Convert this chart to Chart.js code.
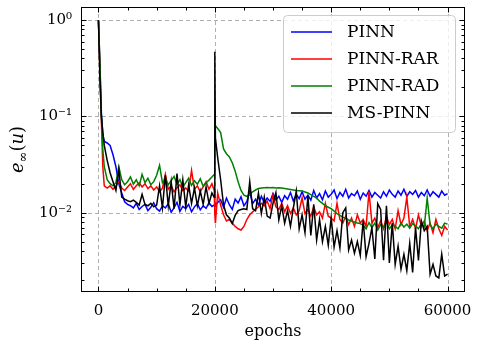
<!DOCTYPE html>
<html>
<head>
<meta charset="utf-8">
<script src="https://cdn.jsdelivr.net/npm/chart.js@4.4.0/dist/chart.umd.min.js"></script>
<style>
html, body { margin: 0; padding: 0; background: #fff; }
</style>
</head>
<body>
<canvas id="chart" width="479" height="349"></canvas>
<script>
// epochs (denser near the start and around the 20000 restart)
const epochs = [
    0, 250, 500, 750, 1000,
    1500, 2000, 2500, 3000, 3500, 4000, 4500, 5000,
    5500, 6000, 6500, 7000, 7500, 8000, 8500, 9000, 9500, 10000,
    10500, 11000, 11500, 12000, 12500, 13000, 13500, 14000, 14500, 15000,
    15500, 16000, 16500, 17000, 17500, 18000, 18500, 19000, 19500,
    19900, 20000, 20100,
    20500, 21000, 21500, 22000, 22500, 23000, 23500, 24000, 24500, 25000,
    25500, 26000, 26500, 27000, 27500, 28000, 28500, 29000, 29500, 30000,
    30500, 31000, 31500, 32000, 32500, 33000, 33500, 34000, 34500, 35000,
    35500, 36000, 36500, 37000, 37500, 38000, 38500, 39000, 39500, 40000,
    40500, 41000, 41500, 42000, 42500, 43000, 43500, 44000, 44500, 45000,
    45500, 46000, 46500, 47000, 47500, 48000, 48500, 49000, 49500, 50000,
    50500, 51000, 51500, 52000, 52500, 53000, 53500, 54000, 54500, 55000,
    55500, 56000, 56500, 57000, 57500, 58000, 58500, 59000, 59500, 60000
]

const pinn = [
    1.0, 0.35, 0.11, 0.065, 0.055,
    0.053, 0.05, 0.04, 0.03, 0.02, 0.016, 0.013, 0.0122,
    0.0118, 0.0112, 0.0125, 0.0108, 0.0116, 0.0122, 0.0105, 0.0114, 0.0127, 0.011,
    0.0104, 0.0118, 0.0112, 0.0124, 0.0101, 0.0113, 0.0128, 0.0103, 0.0116, 0.011,
    0.0122, 0.0102, 0.0115, 0.0124, 0.0107, 0.0118, 0.0111, 0.0127, 0.0116,
    0.012, 0.013, 0.0118,
    0.0128, 0.0136, 0.0114, 0.0142, 0.0121, 0.0108, 0.0138, 0.0126, 0.0146, 0.0118,
    0.013, 0.0165, 0.0124, 0.0138, 0.012, 0.0148, 0.0127, 0.0142, 0.0131, 0.0158,
    0.0135, 0.0148, 0.0128, 0.015, 0.0138, 0.0162, 0.0132, 0.0155, 0.014, 0.0165,
    0.0138, 0.0152, 0.0135, 0.017, 0.0142, 0.0158, 0.0136, 0.0168, 0.0145, 0.0155,
    0.0172, 0.014, 0.0162, 0.0148, 0.0175, 0.0142, 0.0158, 0.015, 0.0168, 0.0138,
    0.016, 0.0148, 0.017, 0.0145, 0.0162, 0.0152, 0.0142, 0.0165, 0.0148, 0.0172,
    0.0155, 0.0145, 0.0168, 0.0152, 0.0175, 0.0148, 0.0165, 0.0155, 0.017, 0.0145,
    0.0162, 0.015, 0.0172, 0.0148, 0.0165, 0.0155, 0.0145, 0.0168, 0.0152, 0.0158
]

const pinnRar = [
    1.0, 0.3, 0.09, 0.03, 0.019,
    0.018, 0.019, 0.0175, 0.019, 0.021, 0.018, 0.017, 0.0185,
    0.02, 0.0175, 0.019, 0.0205, 0.0185, 0.02, 0.0178, 0.019, 0.0172, 0.0185,
    0.0165, 0.018, 0.025, 0.0175, 0.019, 0.0165, 0.0182, 0.0195, 0.017, 0.018,
    0.0168, 0.0275, 0.0175, 0.019, 0.0165, 0.0185, 0.021, 0.0175, 0.02,
    0.017, 0.0095, 0.0078,
    0.016, 0.012, 0.0095, 0.0082, 0.0085, 0.0078, 0.0072, 0.0068, 0.0066, 0.0072,
    0.0085, 0.0095, 0.0102, 0.0108, 0.0115, 0.0125, 0.0118, 0.0132, 0.011, 0.0152,
    0.0115, 0.0108, 0.0125, 0.0102, 0.0118, 0.0098, 0.0112, 0.0095, 0.0105, 0.0142,
    0.0098, 0.0108, 0.0092, 0.0115, 0.0095, 0.0102, 0.0088, 0.0125, 0.0092, 0.0088,
    0.0082, 0.0125, 0.0085, 0.0078, 0.0092, 0.0075, 0.0088, 0.0072, 0.0095, 0.0078,
    0.0085, 0.0072, 0.0165, 0.0078, 0.0088, 0.007, 0.0082, 0.0068, 0.0092, 0.0075,
    0.0085, 0.0068, 0.0105, 0.0075, 0.0088, 0.0145, 0.0072, 0.0085, 0.0068, 0.0095,
    0.0072, 0.0082, 0.0065, 0.0078, 0.0062, 0.0085, 0.0068, 0.0058, 0.0072, 0.0066
]

const pinnRad = [
    1.0, 0.35, 0.1, 0.045, 0.03,
    0.022, 0.02, 0.019, 0.0205, 0.03, 0.022, 0.0195, 0.021,
    0.0235, 0.0198, 0.022, 0.019, 0.025, 0.0205, 0.0228, 0.0195, 0.021, 0.0245,
    0.031, 0.0205, 0.0225, 0.0195, 0.0215, 0.0238, 0.0198, 0.022, 0.0185, 0.0205,
    0.0228, 0.0192, 0.0215, 0.0198, 0.0225, 0.0188, 0.0205, 0.0218, 0.0235,
    0.025, 0.085, 0.08,
    0.075, 0.068, 0.046, 0.041, 0.038, 0.033, 0.027, 0.021, 0.017, 0.0152,
    0.0148, 0.0155, 0.0165, 0.0172, 0.0178, 0.018, 0.0182, 0.0183, 0.0182, 0.0183,
    0.0181, 0.0182, 0.018, 0.0178, 0.0176, 0.0174, 0.0172, 0.017, 0.0169, 0.0168,
    0.0164, 0.016, 0.0154, 0.0148, 0.0142, 0.0132, 0.0125, 0.0118, 0.0114, 0.011,
    0.0104, 0.0098, 0.0094, 0.009, 0.0087, 0.0084, 0.0082, 0.008, 0.0078, 0.0077,
    0.0074, 0.0068, 0.0079, 0.007, 0.0078, 0.0066, 0.0075, 0.0071, 0.008, 0.0068,
    0.0075, 0.0072, 0.0068, 0.0078, 0.0071, 0.0076, 0.0069, 0.0077, 0.0073, 0.0068,
    0.0077, 0.0071, 0.0142, 0.0075, 0.0068, 0.0076, 0.0072, 0.0069, 0.0078, 0.0076
]

const msPinn = [
    1.0, 0.25, 0.1, 0.068, 0.05,
    0.035, 0.026, 0.021, 0.017, 0.028, 0.0145, 0.0138, 0.0133,
    0.013, 0.0135, 0.0128, 0.012, 0.0155, 0.0122, 0.0118, 0.0125, 0.0115, 0.012,
    0.019, 0.0112, 0.0245, 0.0118, 0.021, 0.011, 0.0255, 0.012, 0.022, 0.0115,
    0.0195, 0.0125, 0.018, 0.0118, 0.0168, 0.0122, 0.0185, 0.0125, 0.016,
    0.0145, 0.47, 0.06,
    0.037, 0.022, 0.012, 0.0095, 0.0088, 0.0077, 0.0094, 0.0105, 0.0108, 0.011,
    0.0108, 0.021, 0.011, 0.0105, 0.016, 0.0098, 0.0145, 0.0092, 0.0088, 0.0125,
    0.0162, 0.0084, 0.0118, 0.0078, 0.0105, 0.0072, 0.0112, 0.0168, 0.0068, 0.0095,
    0.0062, 0.015, 0.0058, 0.0122, 0.0052, 0.0085, 0.005, 0.0072, 0.0046, 0.0089,
    0.0044, 0.0065, 0.0043, 0.01, 0.0112, 0.0041, 0.0052, 0.0038, 0.005, 0.0036,
    0.0083, 0.0035, 0.0048, 0.007, 0.0033, 0.0124, 0.0108, 0.0032, 0.0118, 0.003,
    0.0078, 0.0029, 0.0045, 0.0026, 0.0037, 0.0025, 0.0048, 0.0024, 0.007, 0.0032,
    0.0082, 0.0065, 0.0072, 0.0023, 0.0029, 0.0022, 0.0021, 0.0037, 0.0022, 0.0023
]

const seriesNames = ['PINN', 'PINN-RAR', 'PINN-RAD', 'MS-PINN']
const seriesColors = ['#0000ff', '#ff0000', '#008000', '#000000']
const seriesData = [pinn, pinnRar, pinnRad, msPinn]

const xTicks = [0, 5000, 10000, 15000, 20000, 25000, 30000, 35000, 40000, 45000, 50000, 55000, 60000]
const xMajor = [0, 20000, 40000, 60000]
const yTicks = [
    0.002, 0.003, 0.004, 0.005, 0.006, 0.007, 0.008, 0.009,
    0.01, 0.02, 0.03, 0.04, 0.05, 0.06, 0.07, 0.08, 0.09,
    0.1, 0.2, 0.3, 0.4, 0.5, 0.6, 0.7, 0.8, 0.9, 1
]
const yMajor = [0.01, 0.1, 1]
const yMajorLabels = ['10⁻²', '10⁻¹', '10⁰']

const serif = "'DejaVu Serif', 'Liberation Serif', serif"

function isMajorY(v) {
    return yMajor.findIndex(m => Math.abs(v - m) < m * 1e-6)
}

// dashed grid, inward ticks on all sides, framed legend and the y label
const axesDecor = {
    id: 'axesDecor',
    beforeDatasetsDraw(chart) {
        const { ctx, chartArea: a, scales: { x, y } } = chart
        ctx.save()
        ctx.strokeStyle = '#9a9a9a'
        ctx.lineWidth = 0.8
        ctx.setLineDash([4, 3])
        ctx.beginPath()
        xMajor.forEach(v => {
            const px = Math.round(x.getPixelForValue(v)) + 0.5
            ctx.moveTo(px, a.top)
            ctx.lineTo(px, a.bottom)
        })
        yMajor.forEach(v => {
            const py = Math.round(y.getPixelForValue(v)) + 0.5
            ctx.moveTo(a.left, py)
            ctx.lineTo(a.right, py)
        })
        ctx.stroke()
        ctx.restore()
    },
    afterDatasetsDraw(chart) {
        const { ctx, chartArea: a, scales: { x, y } } = chart
        const L = Math.round(a.left) + 0.5, R = Math.round(a.right) - 0.5
        const T = Math.round(a.top) + 0.5, B = Math.round(a.bottom) - 0.5
        ctx.save()
        ctx.strokeStyle = '#000'
        ctx.lineWidth = 1
        ctx.strokeRect(L, T, R - L, B - T)

        ctx.beginPath()
        xTicks.forEach(v => {
            const len = xMajor.includes(v) ? 5 : 3
            const px = Math.round(x.getPixelForValue(v)) + 0.5
            ctx.moveTo(px, B); ctx.lineTo(px, B - len)
            ctx.moveTo(px, T); ctx.lineTo(px, T + len)
        })
        yTicks.forEach(v => {
            const len = isMajorY(v) >= 0 ? 5 : 3
            const py = Math.round(y.getPixelForValue(v)) + 0.5
            ctx.moveTo(L, py); ctx.lineTo(L + len, py)
            ctx.moveTo(R, py); ctx.lineTo(R - len, py)
        })
        ctx.stroke()

        // legend box
        const bx = 283.5, by = 15.5, bw = 172, bh = 117, r = 4
        ctx.beginPath()
        ctx.roundRect(bx, by, bw, bh, r)
        ctx.fillStyle = 'rgba(255,255,255,0.8)'
        ctx.fill()
        ctx.strokeStyle = '#cccccc'
        ctx.stroke()
        ctx.font = '17px ' + serif
        ctx.textBaseline = 'middle'
        ctx.textAlign = 'left'
        seriesNames.forEach((name, i) => {
            const cy = 32 + i * 27
            ctx.strokeStyle = seriesColors[i]
            ctx.lineWidth = 1.5
            ctx.beginPath()
            ctx.moveTo(291, cy)
            ctx.lineTo(332, cy)
            ctx.stroke()
            ctx.fillStyle = '#000'
            ctx.fillText(name, 347, cy + 1)
        })

        // y axis label e_inf(u)
        ctx.translate(17, (a.top + a.bottom) / 2)
        ctx.rotate(-Math.PI / 2)
        ctx.fillStyle = '#000'
        ctx.textBaseline = 'alphabetic'
        const parts = [
            { t: 'e', f: 'italic 18px ' + serif, dy: 0 },
            { t: '∞', f: '13px ' + serif, dy: 4 },
            { t: '(', f: '18px ' + serif, dy: 0 },
            { t: 'u', f: 'italic 18px ' + serif, dy: 0 },
            { t: ')', f: '18px ' + serif, dy: 0 }
        ]
        let total = 0
        parts.forEach(p => { ctx.font = p.f; p.w = ctx.measureText(p.t).width; total += p.w })
        let cx = -total / 2
        parts.forEach(p => {
            ctx.font = p.f
            ctx.fillText(p.t, cx, 6 + p.dy)
            cx += p.w
        })
        ctx.restore()
    }
}

new Chart(document.querySelector('#chart'), {
    type: 'line',
    data: {
        datasets: seriesNames.map((name, i) => ({
            label: name,
            data: epochs.map((e, j) => ({ x: e, y: seriesData[i][j] })),
            borderColor: seriesColors[i],
            backgroundColor: seriesColors[i],
            borderWidth: 1.5,
            pointRadius: 0,
            fill: false,
            order: 4 - i
        }))
    },
    options: {
        responsive: false,
        animation: false,
        layout: { padding: { top: 7, right: 14, left: 0, bottom: 0 } },
        plugins: {
            legend: { display: false },
            tooltip: { enabled: false }
        },
        scales: {
            x: {
                type: 'linear',
                min: -3000,
                max: 63000,
                afterBuildTicks: s => { s.ticks = xTicks.map(v => ({ value: v })) },
                afterFit: s => { s.height = 57; s.paddingLeft = 0; s.paddingRight = 0 },
                grid: { display: false, drawTicks: false },
                border: { display: false },
                ticks: {
                    padding: 10,
                    color: '#000',
                    maxRotation: 0,
                    autoSkip: false,
                    font: { family: serif, size: 15 },
                    callback: v => xMajor.includes(v) ? String(v) : ''
                },
                title: {
                    display: true,
                    text: 'epochs',
                    color: '#000',
                    font: { family: serif, size: 16 },
                    padding: { top: 0, bottom: 8 }
                }
            },
            y: {
                type: 'logarithmic',
                min: 0.0015,
                max: 1.37,
                afterBuildTicks: s => { s.ticks = yTicks.map(v => ({ value: v })) },
                afterFit: s => { s.width = 81; s.paddingTop = 0; s.paddingBottom = 0 },
                grid: { display: false, drawTicks: false },
                border: { display: false },
                ticks: {
                    padding: 9,
                    color: '#000',
                    autoSkip: false,
                    font: { family: serif, size: 15 },
                    callback: v => {
                        const k = isMajorY(v)
                        return k >= 0 ? yMajorLabels[k] : ''
                    }
                }
            }
        }
    },
    plugins: [axesDecor]
})
</script>
</body>
</html>
